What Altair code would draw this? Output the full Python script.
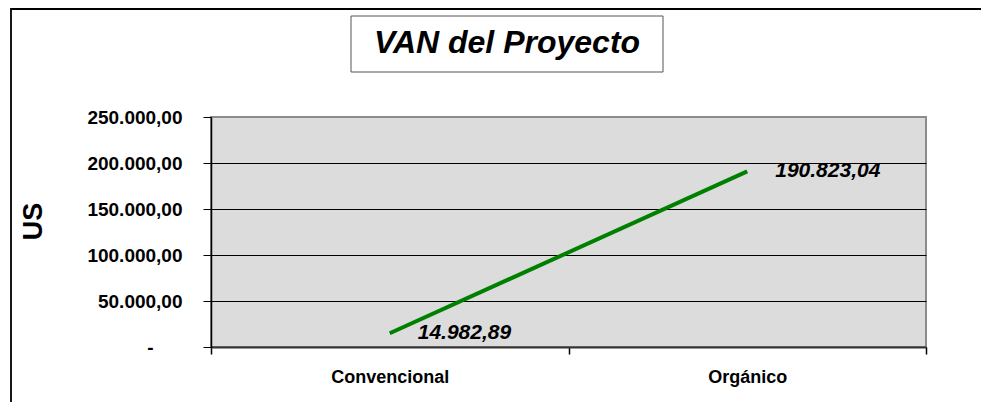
import altair as alt
import pandas as pd

# ---- data ----
categories = ["Convencional", "Orgánico"]
van_values = [14982.89, 190823.04]
y_ticks = [0, 50000, 100000, 150000, 200000, 250000]
chart_title = "VAN del Proyecto"
y_title = "US"

FONT = "Liberation Sans"

df = pd.DataFrame({"categoria": categories, "van": van_values})


def es_fmt(expr):
    # 1,234.56 -> 1.234,56 (Spanish style)
    return (
        "replace(replace(replace(format(" + expr + ", ',.2f'), "
        "regexp(',', 'g'), '_'), regexp('[.]', 'g'), ','), regexp('_', 'g'), '.')"
    )


x_enc = alt.X(
    "categoria:N",
    sort=categories,
    scale=alt.Scale(type="band", paddingInner=0, paddingOuter=0),
    axis=alt.Axis(
        title=None,
        labelAngle=0,
        tickBand="extent",
        tickSize=7,
        tickColor="black",
        tickWidth=1.5,
        labelFont=FONT,
        labelFontSize=18,
        labelFontWeight="bold",
        labelColor="black",
        labelPadding=14,
        domainColor="#333333",
        domainWidth=2,
        grid=False,
    ),
)

y_enc = alt.Y(
    "van:Q",
    scale=alt.Scale(domain=[0, 250000], nice=False, zero=True),
    axis=alt.Axis(
        values=y_ticks,
        title=y_title,
        titleFont=FONT,
        titleFontSize=27,
        titleFontWeight="bold",
        titleColor="black",
        titleAngle=270,
        titleAlign="center",
        titleBaseline="middle",
        titleX=-178,
        titleY=104,
        labelExpr="datum.value == 0 ? '-' : " + es_fmt("datum.value"),
        labelFont=FONT,
        labelFontSize=19,
        labelFontWeight="bold",
        labelColor="black",
        labelPadding={"condition": {"test": "datum.value == 0", "value": 50}, "value": 21},
        tickSize=8,
        tickColor="black",
        domainColor="black",
        domainWidth=1.5,
        grid=True,
        gridColor={"condition": {"test": "datum.value == 250000", "value": "#8c8c8c"}, "value": "black"},
        gridWidth=1,
    ),
)

one = alt.Data(values=[{}])

outer_border = alt.Chart(one).mark_rect(
    fill="white", fillOpacity=0, stroke="black", strokeWidth=1.8
).encode(
    x=alt.value(-200), x2=alt.value(820), y=alt.value(-108), y2=alt.value(330)
)

line = alt.Chart(df).mark_line(color="#008000", strokeWidth=4).encode(x=x_enc, y=y_enc)

labels = alt.Chart(df).transform_calculate(
    etiqueta=es_fmt("datum.van")
).mark_text(
    align="left",
    baseline="middle",
    dx=28,
    font=FONT,
    fontSize=21,
    fontStyle="italic",
    fontWeight="bold",
    color="black",
).encode(x=x_enc, y=y_enc, text="etiqueta:N")

title_box = alt.Chart(one).mark_rect(
    fill="white", stroke="#555555", strokeWidth=1
).encode(
    x=alt.value(140), x2=alt.value(452), y=alt.value(-101), y2=alt.value(-45)
)

title_text = alt.Chart(alt.Data(values=[{"t": chart_title}])).mark_text(
    align="center",
    baseline="alphabetic",
    font=FONT,
    fontSize=32,
    fontStyle="italic",
    fontWeight="bold",
    color="black",
).encode(x=alt.value(296), y=alt.value(-64), text="t:N")

chart = alt.layer(outer_border, line, labels, title_box, title_text).properties(
    width=715,
    height=230,
    autosize=alt.AutoSizeParams(type="none"),
    padding={"left": 203, "top": 109, "right": 55, "bottom": 55},
    background="white",
).configure_view(
    fill="#dcdcdc", stroke="#8c8c8c", strokeWidth=2
)

chart.save("out.html", embed_options={"renderer": "svg", "actions": False})
